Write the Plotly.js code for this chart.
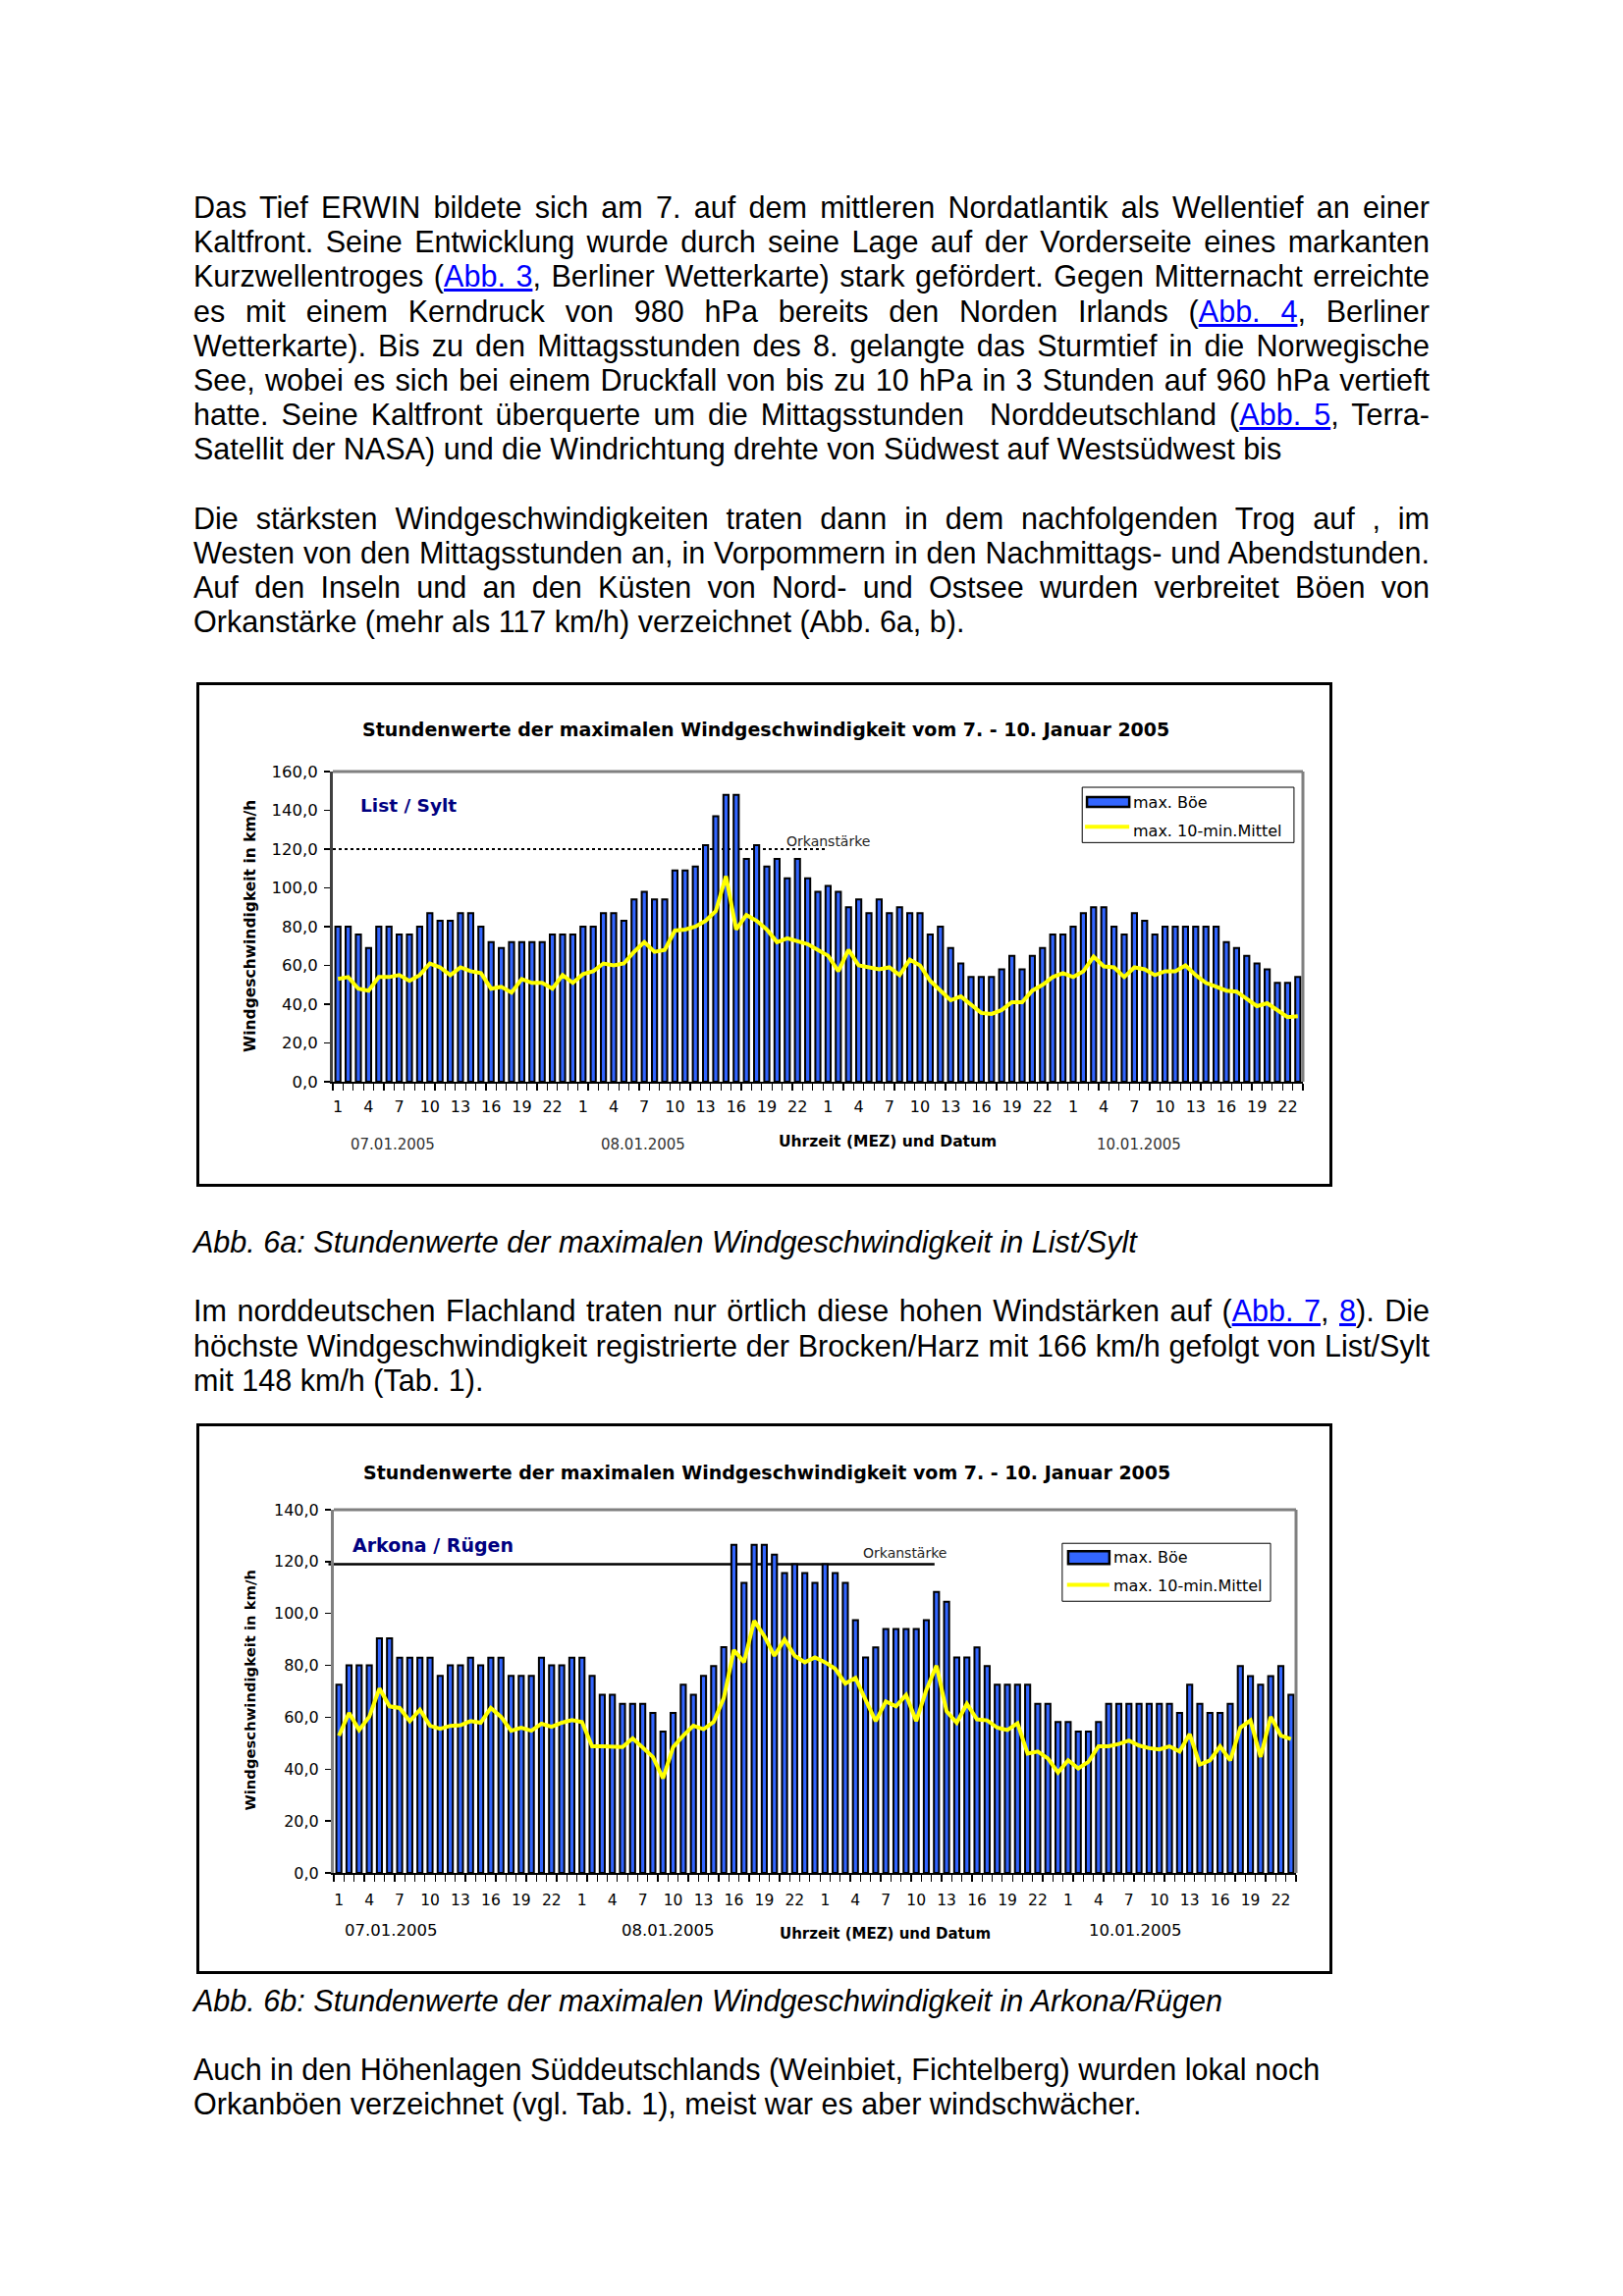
<!DOCTYPE html>
<html><head><meta charset="utf-8">
<script src="https://cdn.plot.ly/plotly-3.0.1.min.js"></script>
<style>
html,body{margin:0;padding:0;background:#fff;}
body{width:1653px;height:2339px;position:relative;overflow:hidden;font-family:"Liberation Sans",Arial,sans-serif;color:#000;}
.p{position:absolute;left:197px;width:1259px;font-size:30.56px;line-height:35.2px;}
.j{text-align:justify;text-align-last:justify;}
.l{text-align:left;}
.cap{font-style:italic;}
.lk{color:#0000FF;text-decoration:underline;}
.chart{position:absolute;left:200px;width:1151px;border:3px solid #000;background:#fff;}
#c1wrap{top:695px;height:508px;}
#c2wrap{top:1450px;height:555px;}
</style>
</head>
<body>
<div class="p" style="top:194px">
<div class="j">Das Tief ERWIN bildete sich am 7. auf dem mittleren Nordatlantik als Wellentief an einer</div>
<div class="j">Kaltfront. Seine Entwicklung wurde durch seine Lage auf der Vorderseite eines markanten</div>
<div class="j">Kurzwellentroges (<span class="lk">Abb. 3</span>, Berliner Wetterkarte) stark gefördert. Gegen Mitternacht erreichte</div>
<div class="j">es mit einem Kerndruck von 980 hPa bereits den Norden Irlands (<span class="lk">Abb. 4</span>, Berliner</div>
<div class="j">Wetterkarte). Bis zu den Mittagsstunden des 8. gelangte das Sturmtief in die Norwegische</div>
<div class="j">See, wobei es sich bei einem Druckfall von bis zu 10 hPa in 3 Stunden auf 960 hPa vertieft</div>
<div class="j">hatte. Seine Kaltfront überquerte um die Mittagsstunden&nbsp; Norddeutschland (<span class="lk">Abb. 5</span>, Terra-</div>
<div class="l">Satellit der NASA) und die Windrichtung drehte von Südwest auf Westsüdwest bis</div>
</div>
<div class="p" style="top:510.8px">
<div class="j">Die stärksten Windgeschwindigkeiten traten dann in dem nachfolgenden Trog auf , im</div>
<div class="j">Westen von den Mittagsstunden an, in Vorpommern in den Nachmittags- und Abendstunden.</div>
<div class="j">Auf den Inseln und an den Küsten von Nord- und Ostsee wurden verbreitet Böen von</div>
<div class="l">Orkanstärke (mehr als 117 km/h) verzeichnet (Abb. 6a, b).</div>
</div>
<div class="p cap" style="top:1248px">Abb. 6a: Stundenwerte der maximalen Windgeschwindigkeit in List/Sylt</div>
<div class="p" style="top:1318.3px">
<div class="j">Im norddeutschen Flachland traten nur örtlich diese hohen Windstärken auf (<span class="lk">Abb. 7</span>, <span class="lk">8</span>). Die</div>
<div class="j">höchste Windgeschwindigkeit registrierte der Brocken/Harz mit 166 km/h gefolgt von List/Sylt</div>
<div class="l">mit 148 km/h (Tab. 1).</div>
</div>
<div class="p cap" style="top:2021px">Abb. 6b: Stundenwerte der maximalen Windgeschwindigkeit in Arkona/Rügen</div>
<div class="p" style="top:2091.2px">
<div class="l">Auch in den Höhenlagen Süddeutschlands (Weinbiet, Fichtelberg) wurden lokal noch</div>
<div class="l">Orkanböen verzeichnet (vgl. Tab. 1), meist war es aber windschwächer.</div>
</div>

<div id="c1wrap" class="chart"><div id="c1"></div></div>
<div id="c2wrap" class="chart"><div id="c2"></div></div>

<script>
// ---------- DATA ----------
const hours = [1,2,3,4,5,6,7,8,9,10,11,12,13,14,15,16,17,18,19,20,21,22,23,24,
               1,2,3,4,5,6,7,8,9,10,11,12,13,14,15,16,17,18,19,20,21,22,23,24,
               1,2,3,4,5,6,7,8,9,10,11,12,13,14,15,16,17,18,19,20,21,22,23,24,
               1,2,3,4,5,6,7,8,9,10,11,12,13,14,15,16,17,18,19,20,21,22,23];
const dateLabels = ["07.01.2005", "08.01.2005", "10.01.2005"];
const chartTitle = "Stundenwerte der maximalen Windgeschwindigkeit vom 7. - 10. Januar 2005";
const xAxisTitle = "Uhrzeit (MEZ) und Datum";
const yAxisTitle = "Windgeschwindigkeit in km/h";
const seriesNames = ["max. Böe", "max. 10-min.Mittel"];
const orkanLabel = "Orkanstärke";

// List / Sylt
const syltBoe = [80,80,76,69,80,80,76,76,80,87,83,83,87,87,80,72,69,72,72,72,72,76,76,76,
                 80,80,87,87,83,94,98,94,94,109,109,111,122,137,148,148,115,122,111,115,105,115,105,98,
                 101,98,90,94,87,94,87,90,87,87,76,80,69,61,54,54,54,58,65,58,65,69,76,76,
                 80,87,90,90,80,76,87,83,76,80,80,80,80,80,80,72,69,65,61,58,51,51,54];
const syltMittel = [53,54,48,47,54,54,55,52,55,61,59,55,59,57,56,48,49,46,53,51,51,48,55,51,
                    55.5,57,61,60,61,67,72,67,68,78,78.5,80,83,88,106,78.5,86,83,78.5,72,74,72.5,71,68,
                    65,57,68,60,59,58,59,55,63,60,52,47,42,44,40,35.5,35,37,41,41,47,50,54,56,
                    54,57,64.5,59.5,59,54,59,58,55,57,57,60,55,51,49,47,46.5,43,39,40.5,36.7,33.3,33.8];
const syltOrkan = 120;

// Arkona / Rügen
const arkonaBoe = [72.6,80,80,80,90.4,90.4,83,83,83,83,76,80,80,83,80,83,83,76,76,76,83,80,80,83,
                   83,76,68.7,68.7,65.2,65.2,65.2,61.7,54.5,61.7,72.6,68.7,76,79.7,87,126.5,111.8,126.5,126.5,122.7,115.6,119,115.6,111.8,
                   119,115.6,111.8,97.4,83.1,86.9,94,94,94,94,97.4,108.3,104.5,83.1,83.1,86.9,79.7,72.6,72.6,72.6,72.6,65.2,65.2,58.2,
                   58.2,54.5,54.5,58.2,65.2,65.2,65.2,65.2,65.2,65.2,65.2,61.7,72.6,65.2,61.7,61.7,65.2,79.7,75.9,72.6,75.9,79.7,68.7];
const arkonaMittel = [52.9,61.7,55.1,60.2,71.1,64.2,63.6,58.5,62.9,56.7,55.6,56.7,56.9,58.5,57.9,63.6,60.2,54.8,56,54.8,57.5,56.3,57.9,58.9,
                      58.2,48.8,48.8,48.5,48.5,51.9,48.5,44.7,36.5,48.5,52.9,56.7,55.4,58.2,67.4,85.9,81.2,97.2,91.3,83.7,90,83.7,81.2,83.1,
                      81.2,78.7,73,75.2,66.7,58.5,66.1,64.2,68.6,58.5,70.5,79.9,62.3,57.9,65.2,59.2,58.8,56,55.1,57.7,46,46.8,44.1,38.7,
                      43.4,40.3,42.8,48.8,48.8,49.7,51,49.1,48.1,47.6,48.8,46.8,53.5,41.8,43.4,48.8,43.4,56,58.8,44.7,60.2,52.9,51.6];
const arkonaOrkan = 119;

// ---------- DRAWING ----------
const FONT = "DejaVu Sans, Liberation Sans, sans-serif";
const BLUE = "#3366FF";

function makeChart(id, o) {
  const x = o.boe.map((_, i) => i + 1);
  const tickvals = [], ticktext = [];
  hours.forEach((h, i) => { if (i % 3 === 0) { tickvals.push(i + 1); ticktext.push(String(h)); } });

  const traces = [
    {type: 'bar', x: x, y: o.boe, width: 0.5, name: seriesNames[0], showlegend: false,
     marker: {color: BLUE, line: {color: '#000', width: 2}}},
    {type: 'scatter', mode: 'lines', x: x, y: o.mittel, name: seriesNames[1], showlegend: false,
     line: {color: '#FFFF00', width: 4}}
  ];

  const ann = (text, x, y, size, extra) => Object.assign({
    text: text, x: x, y: y, xref: 'paper', yref: 'paper', showarrow: false,
    xanchor: 'center', yanchor: 'middle', font: {family: FONT, size: size, color: '#000'}
  }, extra || {});

  const L = o.leg;
  const annotations = [
    ann(chartTitle, o.titleX, o.titleY, 19, {font: {family: FONT, size: 19, color: '#000', weight: 'bold'}}),
    ann(o.station, o.stX, o.stY, o.stSize, {xanchor: 'left', font: {family: FONT, size: o.stSize, color: '#000080', weight: 'bold'}}),
    ann(yAxisTitle, o.ytX, o.ytY, o.ytSize, {textangle: -90, font: {family: FONT, size: o.ytSize, color: '#000', weight: 'bold'}}),
    ann(dateLabels[0], o.dX[0], o.dY, o.dSize, {font: {family: FONT, size: o.dSize, color: o.dColor}}),
    ann(dateLabels[1], o.dX[1], o.dY, o.dSize, {font: {family: FONT, size: o.dSize, color: o.dColor}}),
    ann(xAxisTitle, o.xtX, o.xtY, o.xtSize, {font: {family: FONT, size: o.xtSize, color: '#000', weight: 'bold'}}),
    ann(dateLabels[2], o.dX[2], o.dY, o.dSize, {font: {family: FONT, size: o.dSize, color: o.dColor}}),
    ann(orkanLabel, o.okTX, o.okTY, 14, {font: {family: FONT, size: 14, color: '#222'}}),
    ann(seriesNames[0], L.tx, L.t1y, 16, {xanchor: 'left'}),
    ann(seriesNames[1], L.tx, L.t2y, 16, {xanchor: 'left'})
  ];

  const shapes = [
    {type: 'line', xref: 'paper', yref: 'y', x0: o.okX0, x1: o.okX1, y0: o.orkan, y1: o.orkan, layer: 'below',
     line: {color: '#000', width: o.okW, dash: o.okDash}},
    {type: 'line', xref: 'paper', yref: 'paper', x0: 0, x1: 1, y0: 1, y1: 1, line: {color: '#808080', width: 3}},
    {type: 'line', xref: 'paper', yref: 'paper', x0: 1, x1: 1, y0: 0, y1: 1, line: {color: '#808080', width: 3}},
    {type: 'rect', xref: 'paper', yref: 'paper', x0: L.x0, x1: L.x1, y0: L.y0, y1: L.y1,
     fillcolor: '#fff', line: {color: '#000', width: 1}},
    {type: 'rect', xref: 'paper', yref: 'paper', x0: L.sx0, x1: L.sx1, y0: L.sy0, y1: L.sy1,
     fillcolor: BLUE, line: {color: '#000', width: 2.5}},
    {type: 'line', xref: 'paper', yref: 'paper', x0: L.lx0, x1: L.lx1, y0: L.ly, y1: L.ly,
     line: {color: '#FFFF00', width: 4}}
  ];

  const layout = {
    width: 1151, height: o.h,
    margin: o.margin,
    paper_bgcolor: '#fff', plot_bgcolor: '#fff',
    separators: ',.',
    showlegend: false,
    bargap: 0,
    xaxis: {
      range: [0.5, o.boe.length + 0.5], tickmode: 'array', tickvals: tickvals, ticktext: ticktext,
      ticks: '', showgrid: false, zeroline: false, showline: true, linecolor: '#000', linewidth: 2,
      tickfont: {family: FONT, size: o.xtickSize, color: '#000'}, ticklabelstandoff: o.xStand,
      minor: {tickmode: 'linear', tick0: 0.5, dtick: 1, ticks: 'outside', ticklen: 7, tickcolor: '#000', tickwidth: 1.3, showgrid: false}
    },
    yaxis: {
      range: o.yRange, dtick: 20, tick0: 0, tickformat: '.1f', ticks: 'outside', ticklen: 6,
      tickcolor: '#000', tickwidth: 1.3, showgrid: false, zeroline: false, showline: true,
      linecolor: o.yLine, linewidth: 3, ticklabelstandoff: 3,
      tickfont: {family: FONT, size: o.ytickSize, color: '#000'}
    },
    annotations: annotations,
    shapes: shapes
  };
  Plotly.newPlot(id, traces, layout, {staticPlot: true, displayModeBar: false});
}

makeChart('c1', {
  boe: syltBoe, mittel: syltMittel, orkan: syltOrkan, h: 508,
  margin: {l: 136, r: 27, t: 88, b: 104, pad: 0},
  yRange: [0, 160], yLine: '#404040', ytickSize: 16.5, xtickSize: 16, xStand: 10,
  station: 'List / Sylt', stX: 0.026, stY: 0.892, stSize: 18.5,
  titleX: 0.4466, titleY: 1.136,
  ytX: -0.0845, ytY: 0.502, ytSize: 15.5,
  dX: [0.0622, 0.3202, 0.8310], dY: -0.2013, dSize: 15, dColor: '#333',
  xtX: 0.5723, xtY: -0.192, xtSize: 15.5,
  okX0: 0, okX1: 0.5073, okW: 2, okDash: 'dot', okTX: 0.511, okTY: 0.775,
  leg: {x0: 0.7725, x1: 0.9908, y0: 0.771, y1: 0.9493,
        sx0: 0.7774, sx1: 0.8210, sy0: 0.886, sy1: 0.9176,
        lx0: 0.7754, lx1: 0.8210, ly: 0.822,
        tx: 0.8225, t1y: 0.901, t2y: 0.807}
});

makeChart('c2', {
  boe: arkonaBoe, mittel: arkonaMittel, orkan: arkonaOrkan, h: 555,
  margin: {l: 137, r: 34, t: 85, b: 100, pad: 0},
  yRange: [0, 140], yLine: '#808080', ytickSize: 16, xtickSize: 15.5, xStand: 12,
  station: 'Arkona / Rügen', stX: 0.017, stY: 0.902, stSize: 19,
  titleX: 0.4497, titleY: 1.103,
  ytX: -0.0873, ytY: 0.505, ytSize: 14.8,
  dX: [0.0587, 0.3466, 0.8326], dY: -0.158, dSize: 16.5, dColor: '#000',
  xtX: 0.5733, xtY: -0.1665, xtSize: 15,
  okX0: -0.0056, okX1: 0.6243, okW: 2.5, okDash: 'solid', okTX: 0.5937, okTY: 0.8804,
  leg: {x0: 0.757, x1: 0.9735, y0: 0.748, y1: 0.9075,
        sx0: 0.7632, sx1: 0.806, sy0: 0.8508, sy1: 0.8857,
        lx0: 0.762, lx1: 0.806, ly: 0.7933,
        tx: 0.808, t1y: 0.8697, t2y: 0.7895}
});
</script>
</body></html>
